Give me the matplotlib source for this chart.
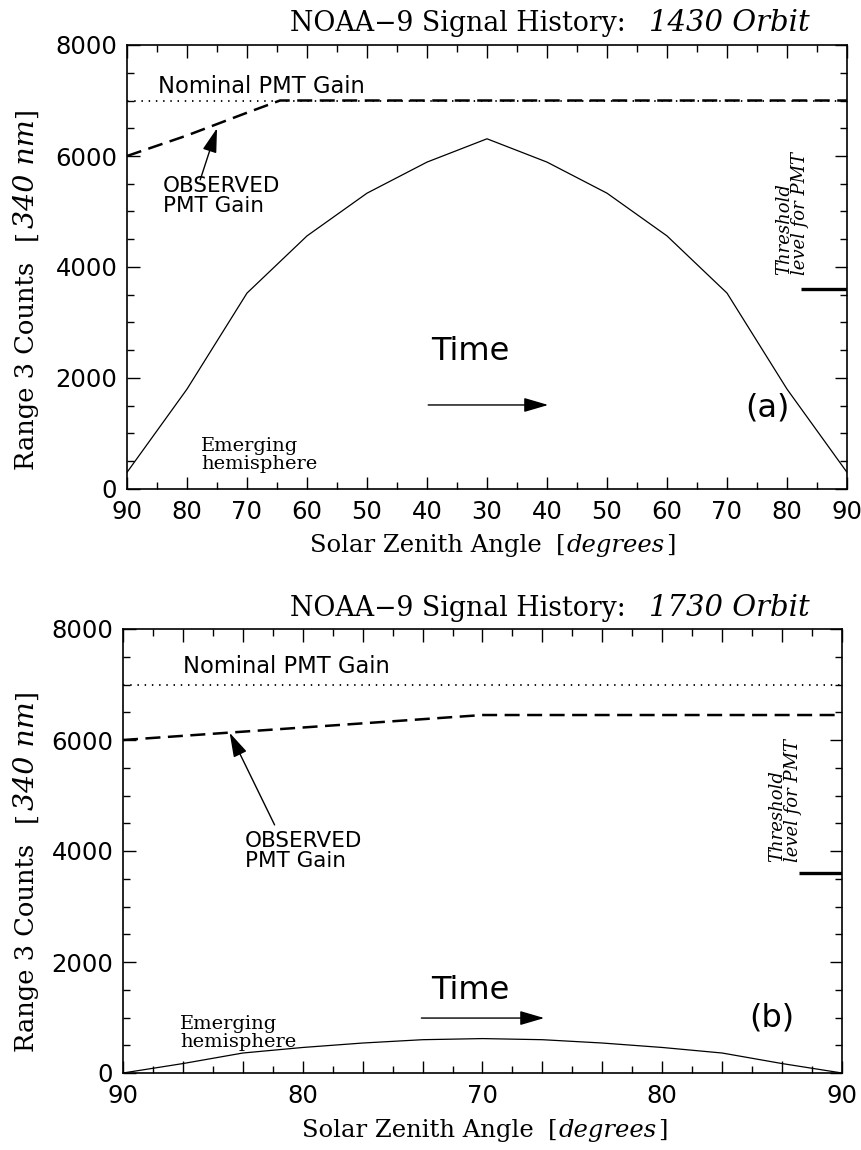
import matplotlib
matplotlib.use("Agg")
import matplotlib.pyplot as plt
from matplotlib.ticker import MultipleLocator, FixedLocator, FixedFormatter

plt.rcParams['font.family'] = ['DejaVu Sans']

# ---------------- data ----------------
# panel (a): 1430 orbit, x positions = index of tick (0..12)
a_labels = ["90", "80", "70", "60", "50", "40", "30", "40", "50", "60", "70", "80", "90"]
a_pos = list(range(13))
a_counts = [300, 1800, 3530, 4560, 5330, 5890, 6310, 5890, 5330, 4560, 3530, 1800, 300]
a_obs_pos = [0, 1, 2, 2.55, 12]
a_obs_gain = [6000, 6370, 6780, 7000, 7000]

# panel (b): 1730 orbit
b_labels = ["90", "80", "70", "80", "90"]
b_label_pos = [0, 3, 6, 9, 12]
b_pos = list(range(13))
b_counts = [0, 170, 360, 460, 540, 600, 620, 600, 540, 460, 360, 170, 0]
b_obs_pos = [0, 6, 12]
b_obs_gain = [6000, 6450, 6450]

nominal_gain = 7000
threshold = 3600

# ---------------- figure ----------------
W, H = 862, 1150
fig = plt.figure(figsize=(W / 100, H / 100), dpi=100)
ax1 = fig.add_axes([127 / W, 1 - 489 / H, 720 / W, 444 / H])
ax2 = fig.add_axes([123 / W, 1 - 1073 / H, 719 / W, 444 / H])

SERIF = 'DejaVu Serif'
arrow_kw = dict(arrowstyle='-|>,head_length=0.75,head_width=0.22', color='black',
                lw=1.0, mutation_scale=20, shrinkA=0, shrinkB=0)


def mixed_text(host, x_px, y_px, parts, rotation=0):
    """Draw a run of text pieces (text, style, gap_pt, size) starting at pixel (x_px, y_px)."""
    fx, fy = x_px / W, 1 - y_px / H
    t0, st0, _, sz0 = parts[0]
    prev = fig.text(fx, fy, t0, family=SERIF, style=st0, fontsize=sz0,
                    rotation=rotation, rotation_mode='anchor', ha='left', va='baseline')
    for t, st, gap, sz in parts[1:]:
        if rotation == 0:
            prev = host.annotate(t, xy=(1, fy), xycoords=(prev, 'figure fraction'),
                                 xytext=(gap, 0), textcoords='offset points',
                                 family=SERIF, style=st, fontsize=sz, ha='left',
                                 va='baseline', annotation_clip=False)
        else:
            prev = host.annotate(t, xy=(fx, 1), xycoords=('figure fraction', prev),
                                 xytext=(0, gap), textcoords='offset points',
                                 family=SERIF, style=st, fontsize=sz, rotation=90,
                                 rotation_mode='anchor', ha='left', va='baseline',
                                 annotation_clip=False)
    return prev


def style_axes(ax):
    ax.set_xlim(0, 12)
    ax.set_ylim(0, 8000)
    ax.yaxis.set_major_locator(MultipleLocator(2000))
    ax.yaxis.set_minor_locator(MultipleLocator(500))
    ax.xaxis.set_minor_locator(MultipleLocator(0.5))
    ax.tick_params(which='both', direction='in', top=True, right=True,
                   width=1.0, colors='black')
    ax.tick_params(which='major', length=9)
    ax.tick_params(which='minor', length=5)
    ax.tick_params(axis='x', which='major', pad=8, labelsize=17.5)
    ax.tick_params(axis='y', which='major', pad=7, labelsize=17.5)
    for s in ax.spines.values():
        s.set_linewidth(1.2)


# ----- panel (a) -----
ax = ax1
style_axes(ax)
ax.xaxis.set_major_locator(FixedLocator(a_pos))
ax.xaxis.set_major_formatter(FixedFormatter(a_labels))
ax.plot(a_pos, a_counts, color='black', lw=0.9)
ax.plot([0, 12], [nominal_gain, nominal_gain], color='black', lw=1.3,
        linestyle=(0, (0.8, 3.2)))
ax.plot(a_obs_pos, a_obs_gain, color='black', lw=1.8, linestyle=(0, (6, 3)))
ax.plot([11.23, 12], [threshold, threshold], color='black', lw=2.4, solid_capstyle='butt')
ax.text(0.52, 7250, "Nominal PMT Gain", fontsize=16.3, ha='left', va='center')
ax.text(0.6, 5280, "OBSERVED\nPMT Gain", fontsize=15.5, ha='left', va='center', linespacing=1.0)
ax.annotate('', xy=(1.5, 6500), xytext=(1.22, 5570), arrowprops=arrow_kw)
ax.text(5.73, 2470, "Time", fontsize=23, ha='center', va='center')
ax.annotate('', xy=(7.02, 1514), xytext=(5.02, 1514), arrowprops=arrow_kw)
ax.text(10.67, 1460, "(a)", fontsize=23, ha='center', va='center')
ax.text(1.23, 612, "Emerging\nhemisphere", family=SERIF, fontsize=14,
        ha='left', va='center', linespacing=1.0)
ax.text(11.09, 3856, "Threshold\nlevel for PMT", family=SERIF, style='italic',
        fontsize=13, rotation=90, ha='center', va='bottom', multialignment='left',
        linespacing=0.85)

# ----- panel (b) -----
ax = ax2
style_axes(ax)
ax.set_xticks(b_pos)
ax.set_xticklabels([b_labels[b_label_pos.index(p)] if p in b_label_pos else "" for p in b_pos])
ax.plot(b_pos, b_counts, color='black', lw=0.9)
ax.plot([0, 12], [nominal_gain, nominal_gain], color='black', lw=1.3,
        linestyle=(0, (0.8, 3.2)))
ax.plot(b_obs_pos, b_obs_gain, color='black', lw=1.8, linestyle=(0, (6, 3)))
ax.plot([11.28, 12], [threshold, threshold], color='black', lw=2.4, solid_capstyle='butt')
ax.text(1.0, 7320, "Nominal PMT Gain", fontsize=16.3, ha='left', va='center')
ax.text(2.03, 4000, "OBSERVED\nPMT Gain", fontsize=15.5, ha='left', va='center', linespacing=1.0)
ax.annotate('', xy=(1.78, 6130), xytext=(2.53, 4470), arrowprops=arrow_kw)
ax.text(5.8, 1495, "Time", fontsize=23, ha='center', va='center')
ax.annotate('', xy=(7.03, 990), xytext=(4.98, 990), arrowprops=arrow_kw)
ax.text(10.83, 990, "(b)", fontsize=23, ha='center', va='center')
ax.text(0.95, 712, "Emerging\nhemisphere", family=SERIF, fontsize=14,
        ha='left', va='center', linespacing=1.0)
ax.text(11.05, 3800, "Threshold\nlevel for PMT", family=SERIF, style='italic',
        fontsize=13, rotation=90, ha='center', va='bottom', multialignment='left',
        linespacing=0.85)

# titles
for ypx, orbit in [(31, "1430 Orbit"), (616, "1730 Orbit")]:
    mixed_text(ax1, 290, ypx, [("NOAA\u22129 Signal History:", 'normal', 0, 19.3),
                               (orbit, 'italic', 17, 21)])

# x labels
for xpx, ypx in [(310, 552), (302, 1137)]:
    mixed_text(ax1, xpx, ypx, [("Solar Zenith Angle", 'normal', 0, 17.5),
                               ("[", 'normal', 10, 17.5),
                               ("degrees", 'italic', 1, 17.5),
                               ("]", 'normal', 1, 17.5)])

# y labels
for xpx, ypx in [(34, 470), (34, 1052)]:
    mixed_text(ax1, xpx, ypx, [("Range 3 Counts", 'normal', 0, 18.5),
                               ("[", 'normal', 16, 18.5),
                               ("340 nm", 'italic', 1, 20.5),
                               ("]", 'normal', 1, 18.5)], rotation=90)

fig.savefig("out.png", dpi=100)
